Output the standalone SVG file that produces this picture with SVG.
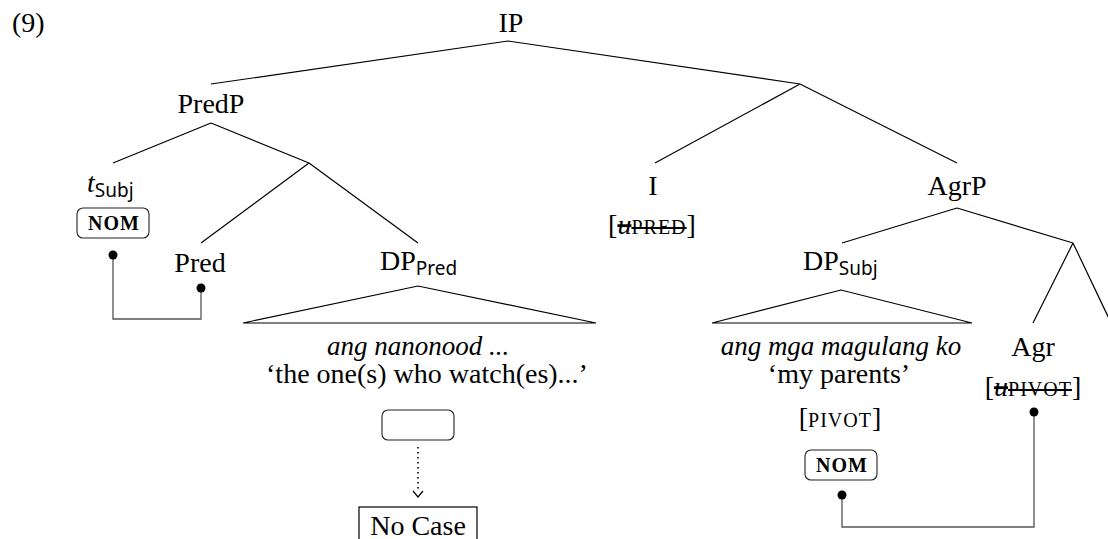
<svg xmlns="http://www.w3.org/2000/svg" width="1108" height="539" viewBox="0 0 1108 539">
<style>
text{font-family:"Liberation Serif","Times New Roman",serif;font-size:28px;fill:#000}
.it{font-style:italic}
.sub{font-family:"Noto Sans","Open Sans",sans-serif;font-size:19px}
.sc{font-size:20px;letter-spacing:1px}
.nom{font-size:20px;font-weight:bold;letter-spacing:1px}
.m{text-anchor:middle}
.edge{stroke:#000;stroke-width:1.2;fill:none}
.box{fill:#fff;stroke:#222;stroke-width:1.1}
.link{stroke:#555;stroke-width:1.3;fill:none}
.dot{fill:#000}
.strike{text-decoration:line-through}
</style>
<g id="connectors">
<path class="edge" d="M508,41 L211,84 M508,41 L800,84 M800,84 L655,163 M800,84 L957,163"/>
<path class="edge" d="M211,123 L113,163 M211,123 L309,163 M309,163 L201,243 M309,163 L418,243"/>
<path class="edge" d="M957,208 L842,243 M957,208 L1073,243 M1073,243 L1033,323 M1073,243 L1113,327"/>
<path class="edge" d="M418,286 L243,323 L596,323 Z"/>
<path class="edge" d="M841,290 L712,323 L972,323 Z"/>
<path class="link" d="M113,255 V319 H201 V288"/>
<path class="link" d="M842,495 V527 H1034 V412"/>
<circle class="dot" cx="113" cy="255" r="4.5"/>
<circle class="dot" cx="201" cy="288" r="4.5"/>
<circle class="dot" cx="842" cy="495" r="4.5"/>
<circle class="dot" cx="1034" cy="412" r="4.5"/>
<path d="M418,447 V492" stroke="#000" stroke-width="1.6" stroke-dasharray="1.6,3.4" fill="none"/>
<path d="M413,491 L418,497 L423,491" stroke="#000" stroke-width="1.2" fill="none"/>
</g>
<g id="label"><text x="12" y="32">(9)</text></g>
<g id="IP"><text class="m" x="511" y="32">IP</text></g>
<g id="PredP"><text class="m" x="211" y="113">PredP</text></g>
<g id="tSubj">
<text x="87" y="192"><tspan class="it">t</tspan><tspan class="sub" dy="5">Subj</tspan></text>
<rect class="box" x="77" y="208" width="72" height="30" rx="6"/>
<text class="m nom" x="114" y="230">NOM</text>
</g>
<g id="Pred"><text class="m" x="200" y="272">Pred</text></g>
<g id="DPPred">
<text x="380" y="270">DP<tspan class="sub" dy="5">Pred</tspan></text>
<text class="m it" x="418" y="355" style="font-size:27px">ang nanonood ...</text>
<text class="m" x="427" y="383">‘the one(s) who watch(es)...’</text>
<rect class="box" x="382" y="410" width="72" height="30" rx="6"/>
</g>
<g id="NoCase">
<rect x="359" y="507" width="118" height="45" fill="#fff" stroke="#000" stroke-width="1.2"/>
<text class="m" x="418" y="535">No Case</text>
</g>
<g id="I">
<text class="m" x="653" y="195">I</text>
<text class="m" x="652" y="234">[<tspan class="strike sc"><tspan class="it" style="font-size:28px;letter-spacing:0">u</tspan>PRED</tspan>]</text>
</g>
<g id="AgrP"><text class="m" x="957" y="195">AgrP</text></g>
<g id="DPSubj">
<text x="803" y="270">DP<tspan class="sub" dy="5">Subj</tspan></text>
<text class="m it" x="841" y="355" style="font-size:27px">ang mga magulang ko</text>
<text class="m" x="839" y="383">‘my parents’</text>
<text class="m" x="840" y="427">[<tspan class="sc">PIVOT</tspan>]</text>
<rect class="box" x="805" y="450" width="72" height="30" rx="6"/>
<text class="m nom" x="842" y="472">NOM</text>
</g>
<g id="Agr">
<text class="m" x="1033" y="356">Agr</text>
<text class="m" x="1033" y="396">[<tspan class="strike sc"><tspan class="it" style="font-size:28px;letter-spacing:0">u</tspan>PIVOT</tspan>]</text>
</g>
</svg>
